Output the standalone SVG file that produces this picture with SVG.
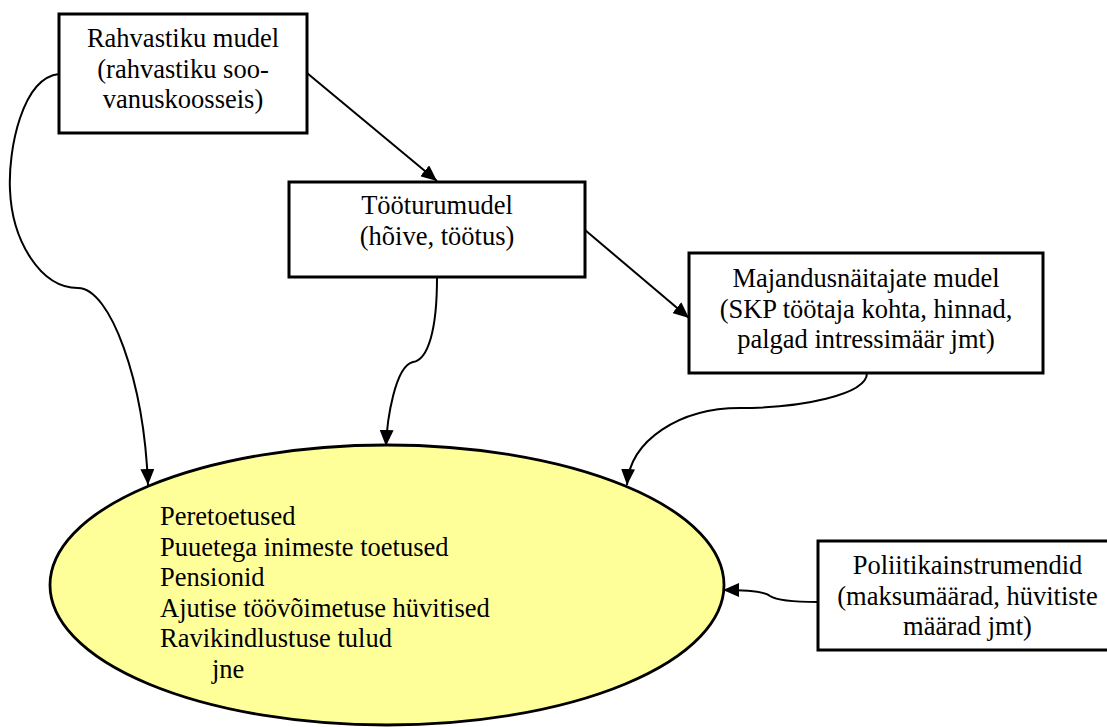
<svg xmlns="http://www.w3.org/2000/svg" width="1107" height="727" viewBox="0 0 1107 727">
  <style>
    .box { fill: #ffffff; stroke: #000000; stroke-width: 3; }
    .ell { fill: #ffff99; stroke: #000000; stroke-width: 2.8; }
    .t { font-family: "Liberation Serif", "Times New Roman", serif; font-size: 26.5px; fill: #000000; }
    .c { text-anchor: middle; }
    .conn { fill: none; stroke: #000000; stroke-width: 2; marker-end: url(#arrow); }
  </style>
  <defs>
    <marker id="arrow" markerUnits="userSpaceOnUse" markerWidth="17" markerHeight="14" refX="16" refY="7" orient="auto">
      <path d="M0,0 L16,7 L0,14 Z" fill="#000000"/>
    </marker>
  </defs>
  <rect width="1107" height="727" fill="#ffffff"/>

  <g id="connectors">
    <path class="conn" d="M307,73 L437,181"/>
    <path class="conn" d="M585,230 L689,318"/>
    <path class="conn" d="M59,74 C22,78 8,150 10,190 C12,240 40,288 78,288 C110,288 144,380 148,485"/>
    <path class="conn" d="M437,278 C437,330 428,360 413,362 C395,366 387,420 386,446"/>
    <path class="conn" d="M867,373 C867,395 800,408 740,408 C680,408 630,440 627,485"/>
    <path class="conn" d="M818,602 C790,602 776,600 770,596 C764,591 745,590 723,590"/>
  </g>

  <g id="node-ellipse">
    <ellipse class="ell" cx="387" cy="585" rx="337" ry="140"/>
    <text class="t" x="160" y="525">Peretoetused</text>
    <text class="t" x="160" y="555.5">Puuetega inimeste toetused</text>
    <text class="t" x="160" y="586">Pensionid</text>
    <text class="t" x="160" y="616.5">Ajutise töövõimetuse hüvitised</text>
    <text class="t" x="160" y="647">Ravikindlustuse tulud</text>
    <text class="t" x="212" y="677.5">jne</text>
  </g>

  <g id="node-rahvastik">
    <rect class="box" x="59" y="14" width="248" height="119"/>
    <text class="t c" x="183" y="47">Rahvastiku mudel</text>
    <text class="t c" x="183" y="78">(rahvastiku soo-</text>
    <text class="t c" x="183" y="108">vanuskoosseis)</text>
  </g>

  <g id="node-tooturg">
    <rect class="box" x="289" y="182" width="296" height="95"/>
    <text class="t c" x="437" y="214">Tööturumudel</text>
    <text class="t c" x="437" y="245">(hõive, töötus)</text>
  </g>

  <g id="node-majandus">
    <rect class="box" x="689" y="253" width="354" height="120"/>
    <text class="t c" x="866" y="287">Majandusnäitajate mudel</text>
    <text class="t c" x="866" y="317.5">(SKP töötaja kohta, hinnad,</text>
    <text class="t c" x="866" y="348">palgad intressimäär jmt)</text>
  </g>

  <g id="node-poliitika">
    <rect class="box" x="818" y="541" width="300" height="109"/>
    <text class="t c" x="967.5" y="574">Poliitikainstrumendid</text>
    <text class="t c" x="967.5" y="605">(maksumäärad, hüvitiste</text>
    <text class="t c" x="967.5" y="635">määrad jmt)</text>
  </g>
</svg>
